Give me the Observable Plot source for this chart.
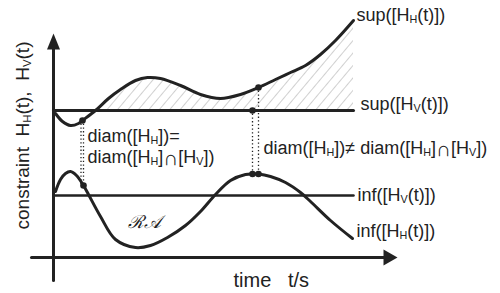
<!DOCTYPE html>
<html><head><meta charset="utf-8">
<script src="https://cdn.jsdelivr.net/npm/d3@7"></script>
<script src="https://cdn.jsdelivr.net/npm/@observablehq/plot@0.6"></script>
<style>body{margin:0;background:#fff}svg{display:block}</style>
</head><body><div id="chart"></div>
<script>
// time (t) and constraint values of the curves
const supH_t = [55,62,70,78,82,95,108,120,135,147,160,180,200,220,240,258,275,290,305,320,335,353];
const supH_v = [180,172,168,170,173,183,195,204,213,216,215,208,199,195,199,206,214,221,228,239,253,273];
const infH_t = [55,60,65,70,76,83,88,100,115,135,150,167,185,200,215,230,245,253,258,270,285,300,310,330,352];
const infH_v = [102,114,120,122,118,108,99,77,54,46,48,56,68,82,99,113,119,119.5,119.5,117,111,101,92,73,55];
const supHv_level = 183, infHv_level = 98;
const hv_t = [53, 353];
// axes
const xAxisT = [31, 397], xAxisV = 36;
const yAxisT = 53, yAxisV = [13, 260];
// marked points (time, value)
const mark_t = [82, 83, 252, 258, 252, 258];
const mark_v = [173, 108, 183, 206, 119.5, 119.5];
// dotted connectors
const conn_t = [80.5, 83, 252, 258];
const conn_v1 = [173, 173, 183, 206];
const conn_v2 = [108, 108, 119.5, 119.5];
// labels
const labels = ["sup([H_H(t)])", "sup([H_V(t)])", "diam([H_H])=", "diam([H_H]∩[H_V])",
  "diam([H_H])≠ diam([H_H]∩[H_V])", "inf([H_V(t)])", "inf([H_H(t)])"];
const label_t = [356, 360, 87, 87, 263, 357, 356];
const label_v = [278, 189, 157, 136, 145, 98, 62];
const xLabel = "time\u00a0\u00a0\u00a0t/s";
const yLabel = "constraint\u00a0\u00a0H_H(t),\u00a0\u00a0H_V(t)";

const supH = supH_t.map((t, i) => ({t, v: supH_v[i]}));
const infH = infH_t.map((t, i) => ({t, v: infH_v[i]}));
const hatchData = supH.filter(d => d.t >= 95);
const marks = mark_t.map((t, i) => ({t, v: mark_v[i]}));
const conns = conn_t.map((t, i) => ({t, v1: conn_v1[i], v2: conn_v2[i]}));
const labs = labels.map((s, i) => ({s, t: label_t[i], v: label_v[i]}));
const ink = "#222";
const font = "Liberation Sans, Arial, sans-serif";

const xArrow = [{t: xAxisT[1], v: xAxisV}, {t: xAxisT[1] - 14, v: xAxisV + 8}, {t: xAxisT[1] - 14, v: xAxisV - 8}];
const yArrow = [{t: yAxisT, v: yAxisV[1]}, {t: yAxisT - 6.5, v: yAxisV[1] - 16}, {t: yAxisT + 6.5, v: yAxisV[1] - 16}];

const svg = Plot.plot({
  width: 500, height: 293,
  margin: 0,
  x: {domain: [0, 500], axis: null},
  y: {domain: [0, 293], axis: null},
  style: {background: "#fff", fontFamily: font},
  marks: [
    Plot.areaY(hatchData, {x: "t", y1: supHv_level, y2: "v", curve: "catmull-rom", fill: "url(#hatch)"}),
    Plot.ruleX(conns, {x: "t", y1: "v1", y2: "v2", stroke: ink, strokeWidth: 1.3, strokeDasharray: "1.3,2.4"}),
    Plot.line([{t: hv_t[0], v: supHv_level}, {t: hv_t[1], v: supHv_level}], {x: "t", y: "v", stroke: ink, strokeWidth: 3}),
    Plot.line([{t: hv_t[0], v: infHv_level}, {t: hv_t[1], v: infHv_level}], {x: "t", y: "v", stroke: ink, strokeWidth: 2.5}),
    Plot.line(supH, {x: "t", y: "v", curve: "catmull-rom", stroke: ink, strokeWidth: 3}),
    Plot.line(infH, {x: "t", y: "v", curve: "catmull-rom", stroke: ink, strokeWidth: 3}),
    Plot.line([{t: xAxisT[0], v: xAxisV}, {t: xAxisT[1] - 12, v: xAxisV}], {x: "t", y: "v", stroke: ink, strokeWidth: 3}),
    Plot.line([{t: yAxisT, v: yAxisV[0]}, {t: yAxisT, v: yAxisV[1] - 14}], {x: "t", y: "v", stroke: ink, strokeWidth: 3}),
    Plot.line(xArrow, {x: "t", y: "v", fill: ink, stroke: "none"}),
    Plot.line(yArrow, {x: "t", y: "v", fill: ink, stroke: "none"}),
    Plot.dot(marks, {x: "t", y: "v", r: 3.3, fill: ink}),
    Plot.text(labs, {x: "t", y: "v", text: "s", textAnchor: "start", fontSize: 18, fill: ink, fontFamily: font}),
    Plot.text([xLabel], {x: 233, y: 13, text: d => d, textAnchor: "start", fontSize: 20, fill: ink, fontFamily: font}),
    Plot.text([yLabel], {x: 22, y: 158, text: d => d, rotate: -90, textAnchor: "middle", fontSize: 19, fill: ink, fontFamily: font}),
    Plot.text(["ℛ𝒜"], {x: 127, y: 71, text: d => d, textAnchor: "start", fontSize: 18, fill: ink, fontFamily: "DejaVu Serif, serif", fontStyle: "italic"})
  ]
});

d3.select(svg).insert("defs", ":first-child").html(
  '<pattern id="hatch" patternUnits="userSpaceOnUse" width="8" height="8" patternTransform="rotate(40)">' +
  '<line x1="0" y1="0" x2="0" y2="8" stroke="#8a8a8a" stroke-width="0.8"/></pattern>');

// rich text: _X -> small subscript, ∩ -> larger bold
d3.select(svg).selectAll("g[aria-label=text] text").each(function() {
  const s = this.textContent;
  if (!/[_∩]/.test(s)) return;
  const el = d3.select(this);
  el.text(null);
  let shift = 0;
  for (const p of s.split(/(_.|∩)/).filter(p => p)) {
    let target = 0, txt = p, size = null, weight = null;
    if (p[0] === "_") { target = 2; txt = p.slice(1); size = "0.6em"; }
    else if (p === "∩") { target = 2; size = "1.15em"; weight = "bold"; }
    const ts = el.append("tspan").text(txt);
    if (target !== shift) ts.attr("dy", target - shift);
    shift = target;
    if (size) ts.attr("font-size", size);
    if (weight) ts.attr("font-weight", weight);
  }
});

document.getElementById("chart").append(svg);
</script></body></html>
